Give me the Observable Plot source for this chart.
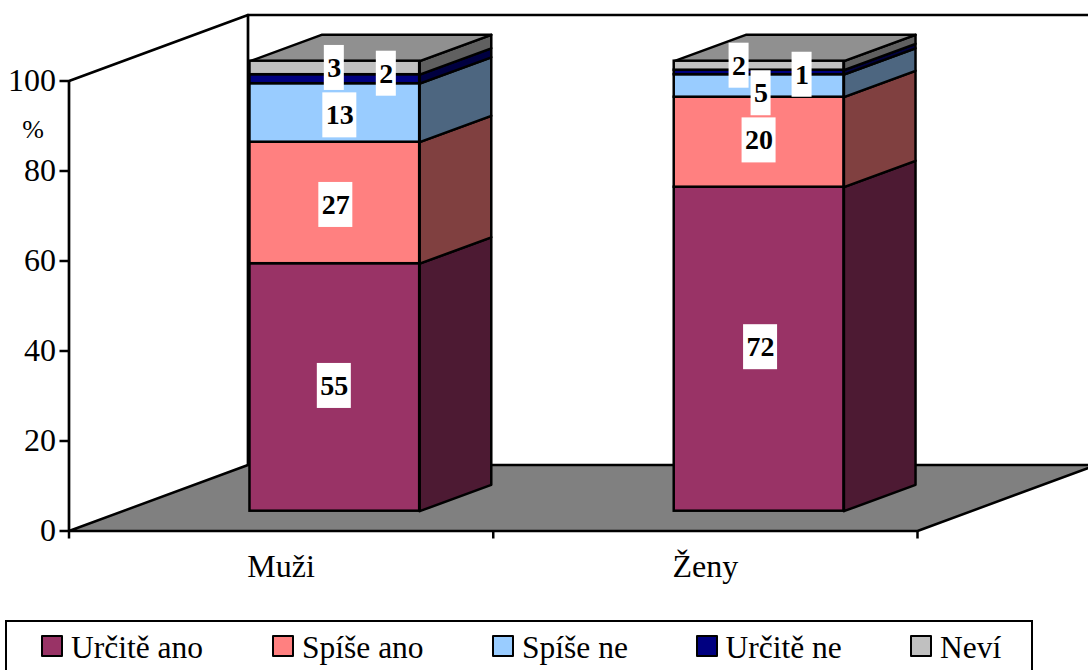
<!DOCTYPE html>
<html lang="cs">
<head>
<meta charset="utf-8">
<script src="https://cdn.jsdelivr.net/npm/d3@7"></script>
<script src="https://cdn.jsdelivr.net/npm/@observablehq/plot@0.6"></script>
<style>
  html, body { margin: 0; padding: 0; background: #fff; overflow: hidden; }
  body { width: 1088px; height: 670px; position: relative; font-family: "Liberation Serif", serif; }
  #legend { position: absolute; left: 5px; top: 620px; width: 1024px; height: 70px; border: 2.5px solid #000; box-sizing: content-box; }
  .item { position: absolute; top: 10.5px; height: 26px; display: flex; align-items: center; font-size: 31.5px; line-height: 26px; color: #000; white-space: nowrap; }
  .item .name { position: relative; top: 2px; }
  .swatch { width: 18px; height: 18px; border: 2px solid #000; border-radius: 1px; margin-right: 8px; flex: none; }
  svg { display: block; overflow: visible; }
</style>
</head>
<body>
<div id="chart"></div>
<div id="legend"></div>
<script>
// ---- data ----
const categories = ["Muži", "Ženy"];
const series = ["Určitě ano", "Spíše ano", "Spíše ne", "Určitě ne", "Neví"];
const muzi = [55, 27, 13, 2, 3];
const zeny = [72, 20, 5, 1, 2];
const yTicks = [0, 20, 40, 60, 80, 100];

// ---- style ----
const frontColors = ["#993366", "#FF8080", "#99CCFF", "#000080", "#C0C0C0"];
const sideColors = ["#4D1A33", "#804040", "#4D6680", "#000040", "#606060"];
const topColor = "#909090";
const floorColor = "#808080";
const legendLeft = [34, 265, 485, 688.5, 903];

// ---- layout of the oblique view ----
const X0 = 68.5, X1 = 917, Y0 = 530.5, Y1 = 80.5;
const pxX = (X1 - X0) / 2, pxY = (Y0 - Y1) / 100;
const depthX = 179 / pxX, depthY = 66 / pxY;     // shift of the back plane, in data units
const zFront = 0.3, zBack = 0.7, barHalf = 0.2;
const wrapX = (x, z) => x + z * depthX;
const wrapY = (v, z) => v + z * depthY;
const pt = (x, v, z, id, fill) => ({x: wrapX(x, z), y: wrapY(v, z), id, fill});

// label offsets from the middle of each front face, px [dx, dy]
const labelNudges = [
  [[-0.5, -1.5], [1, 2], [5, 2.4], [51.5, -5.5], [-0.5, 0]],
  [[1.5, -2], [0, -1.8], [2, 7.3], [43, 2.3], [-20, 0]]
];

const faces = [], fronts = [], boxes = [];
const poly = (id, fill, pts) => pts.concat([pts[0]]).forEach(p => faces.push(pt(p[0], p[1], p[2], id, fill)));

// floor
poly("floor", floorColor, [[0, 0, 0], [2, 0, 0], [2, 0, 1], [0, 0, 1]]);

[muzi, zeny].forEach((vals, c) => {
  const cx = c + 0.5, xl = cx - barHalf, xr = cx + barHalf;
  let base = 0;
  vals.forEach((v, s) => {
    const top = base + v;
    poly(`side${c}-${s}`, sideColors[s], [[xr, base, zFront], [xr, base, zBack], [xr, top, zBack], [xr, top, zFront]]);
    fronts.push({
      x1: wrapX(xl, zFront), x2: wrapX(xr, zFront),
      y1: wrapY(base, zFront), y2: wrapY(top, zFront),
      fill: frontColors[s]
    });
    const [ndx, ndy] = labelNudges[c][s];
    const lx = wrapX(cx, zFront) + ndx / pxX;
    const ly = wrapY(base + v / 2, zFront) - ndy / pxY;
    const hw = (String(v).length > 1 ? 17 : 10) / pxX, hh = 22.5 / pxY;
    boxes.push({x: lx, y: ly, x1: lx - hw, x2: lx + hw, y1: ly - hh, y2: ly + hh, text: String(v)});
    base = top;
  });
  poly(`top${c}`, topColor, [[xl, base, zFront], [xr, base, zFront], [xr, base, zBack], [xl, base, zBack]]);
});

// walls: left edge running back from the axis top, back vertical, back top edge
const wall = [
  {x: wrapX(0, 0), y: wrapY(100, 0)},
  {x: wrapX(0, 1), y: wrapY(100, 1)},
  {x: 2 + depthX, y: wrapY(100, 1)}
];
const wallBack = [
  {x: wrapX(0, 1), y: wrapY(0, 1)},
  {x: wrapX(0, 1), y: wrapY(100, 1)}
];

const font = "Liberation Serif";
const chart = Plot.plot({
  width: 1088,
  height: 620,
  marginLeft: X0, marginRight: 1088 - X1, marginTop: Y1, marginBottom: 620 - Y0,
  style: {fontFamily: font, background: "#fff", color: "#000", overflow: "visible"},
  x: {domain: [0, 2], range: [X0, X1]},
  y: {domain: [0, 100], range: [Y0, Y1]},
  color: {type: "identity"},
  marks: [
    Plot.line(wall, {x: "x", y: "y", stroke: "#000", strokeWidth: 2.7}),
    Plot.line(wallBack, {x: "x", y: "y", stroke: "#000", strokeWidth: 2.7}),
    Plot.line(faces, {x: "x", y: "y", z: "id", fill: "fill", stroke: "#000", strokeWidth: 2.5}),
    Plot.rect(fronts, {x1: "x1", x2: "x2", y1: "y1", y2: "y2", fill: "fill", stroke: "#000", strokeWidth: 2.5}),
    Plot.ruleX([0], {y1: 0, y2: 100, stroke: "#000", strokeWidth: 2.7}),
    Plot.axisY({ticks: yTicks, tickSize: 9, tickPadding: 4, fontSize: 32, stroke: "#000", strokeWidth: 2.5, color: "#000", label: null}),
    Plot.axisX({ticks: [0, 1, 2], tickSize: 8, tickFormat: () => "", stroke: "#000", strokeWidth: 2.5, label: null}),
    Plot.axisX({ticks: [0.5, 1.5], tickSize: 0, tickPadding: 23, fontSize: 32, tickFormat: d => categories[d - 0.5], color: "#000", label: null}),
    Plot.text(["%"], {x: 0, y: 89.2, dx: -36, fontSize: 26, fill: "#000"}),
    Plot.rect(boxes, {x1: "x1", x2: "x2", y1: "y1", y2: "y2", fill: "#fff"}),
    Plot.text(boxes, {x: "x", y: "y", text: "text", fontSize: 28, fontWeight: "bold", fill: "#000"})
  ]
});
document.getElementById("chart").append(chart);

const legend = document.getElementById("legend");
series.forEach((name, i) => {
  const item = document.createElement("div");
  item.className = "item";
  item.style.left = legendLeft[i] + "px";
  const sw = document.createElement("span");
  sw.className = "swatch";
  sw.style.background = frontColors[i];
  const label = document.createElement("span");
  label.className = "name";
  label.textContent = name;
  item.append(sw, label);
  legend.append(item);
});
</script>
</body>
</html>
